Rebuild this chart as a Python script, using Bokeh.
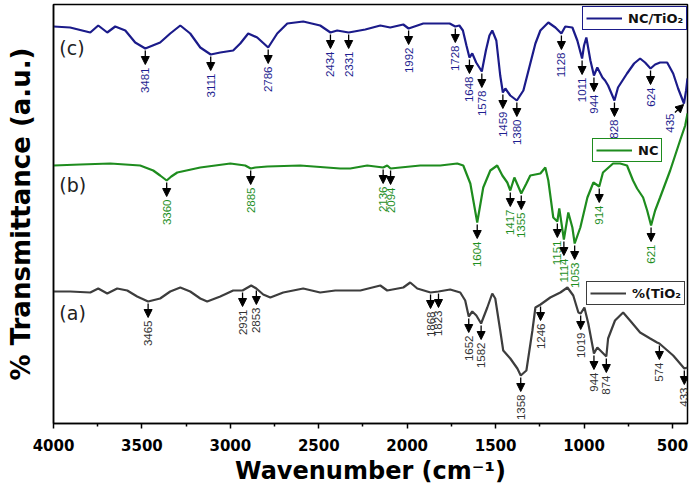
import numpy as np
from bokeh.plotting import figure
from bokeh.models import (Range1d, ColumnDataSource, Arrow, NormalHead, Legend,
                          LegendItem, FixedTicker)
from bokeh.embed import file_html
from bokeh.resources import INLINE
from bokeh.core.properties import value

# ---------------- data (arbitrary transmittance units, offset spectra) ----------------
c_wn = [4000, 3906, 3792, 3747, 3696, 3651, 3594, 3538, 3481, 3397, 3340, 3283, 3227, 3170,
        3111, 3057, 2984, 2944, 2899, 2848, 2786, 2735, 2678, 2588, 2492, 2434, 2396, 2331,
        2237, 2152, 2096, 2022, 1992, 1909, 1773, 1760, 1728, 1705, 1685, 1665, 1648, 1632,
        1610, 1578, 1555, 1535, 1519, 1496, 1474, 1459, 1445, 1417, 1380, 1343, 1304, 1275,
        1247, 1202, 1162, 1128, 1106, 1066, 1038, 1011, 1000, 987, 964, 944, 925, 896, 881,
        864, 828, 808, 757, 717, 683, 655, 624, 598, 570, 530, 496, 468, 435, 423, 415]
c_px = [26, 27, 32, 25, 32, 26, 30, 42, 48, 42, 33, 25, 33, 47,
        54, 52, 50, 43, 33, 37, 47, 33, 23, 21, 25, 32, 30, 32,
        29, 25, 27, 24, 28, 23, 23, 23, 26, 25, 30, 45, 57, 53,
        62, 71, 50, 35, 30, 40, 75, 92, 88, 95, 100, 90, 63, 43,
        30, 22, 27, 33, 26, 27, 40, 58, 45, 37, 60, 75, 67, 77, 80,
        85, 100, 87, 73, 63, 58, 62, 68, 64, 62, 62, 73, 88, 103, 90, 78]
c_val = [423 - v for v in c_px]

b_wn = [4000, 3849, 3679, 3510, 3436, 3397, 3360, 3334, 3300, 3170, 3000, 2916, 2885, 2859,
        2791, 2605, 2379, 2322, 2226, 2136, 2113, 2094, 2039, 1926, 1813, 1717, 1683, 1643,
        1604, 1570, 1530, 1491, 1462, 1434, 1417, 1394, 1355, 1326, 1304, 1247, 1219, 1202,
        1174, 1151, 1140, 1114, 1089, 1066, 1053, 1021, 981, 947, 914, 893, 836, 796, 757,
        723, 700, 666, 643, 621, 598, 570, 513, 457, 428, 415]
b_px = [165, 164, 163, 165, 170, 175, 180, 176, 172, 167, 163, 165, 168, 167,
        166, 165, 168, 168, 165, 167, 165, 168, 167, 165, 165, 163, 165, 183,
        222, 187, 170, 165, 175, 182, 190, 177, 193, 183, 175, 173, 167, 180,
        217, 221, 208, 239, 212, 227, 243, 227, 197, 182, 186, 172, 163, 163, 165,
        180, 188, 197, 210, 225, 210, 197, 170, 140, 125, 113]
b_val = [423 - v for v in b_px]

a_wn = [4000, 3906, 3792, 3747, 3696, 3640, 3583, 3527, 3465, 3397, 3340, 3283, 3227, 3170,
        3131, 3057, 2984, 2931, 2882, 2853, 2814, 2774, 2701, 2588, 2492, 2407, 2322, 2265,
        2152, 2113, 2022, 1983, 1943, 1868, 1823, 1757, 1700, 1672, 1652, 1632, 1609, 1582,
        1547, 1519, 1502, 1474, 1457, 1417, 1377, 1358, 1326, 1292, 1275, 1246, 1191, 1134,
        1094, 1061, 1032, 1019, 998, 976, 944, 925, 874, 864, 825, 779, 740, 683, 626, 587,
        574, 496, 433, 415]
a_px = [291, 291, 292, 288, 293, 288, 290, 296, 301, 298, 291, 287, 291, 298,
        301, 296, 290, 290, 285, 288, 294, 297, 292, 288, 292, 290, 290, 290,
        285, 290, 287, 282, 288, 292, 291, 289, 292, 300, 316, 311, 315, 323,
        307, 293, 298, 330, 350, 358, 368, 375, 370, 330, 307, 304, 297, 292,
        287, 295, 312, 313, 307, 323, 353, 347, 356, 338, 320, 312, 320, 332, 338, 342,
        343, 355, 368, 367]
a_val = [423 - v for v in a_px]

c_peaks = [3481, 3111, 2786, 2434, 2331, 1992, 1728, 1648, 1578, 1459, 1380, 1128, 1011,
           944, 828, 624, 435]
b_peaks = [3360, 2885, 2136, 2094, 1604, 1417, 1355, 1151, 1114, 1053, 914, 621]
a_peaks = [3465, 2931, 2853, 1868, 1823, 1652, 1582, 1358, 1246, 1019, 944, 874, 574, 433]

x_ticks = [4000, 3500, 3000, 2500, 2000, 1500, 1000, 500]
x_minor = [3750, 3250, 2750, 2250, 1750, 1250, 750]

# ---------------- figure ----------------
p = figure(width=690, height=490, output_backend="svg", toolbar_location=None,
           x_range=Range1d(4000, 415), y_range=Range1d(0, 419),
           min_border_left=53, min_border_right=3, min_border_top=4, min_border_bottom=67)
p.xgrid.visible = False
p.ygrid.visible = False
p.outline_line_color = "black"
p.outline_line_width = 1.5
p.background_fill_color = "white"

NAVY, GREEN, GREY = "#1b1b8a", "#1e8c1e", "#3d3d3d"
NAVY_T, GREEN_T, GREY_T = "#1f1f90", "#1f8f1f", "#333333"

rc = p.line(c_wn, c_val, line_color=NAVY, line_width=2.2)
rb = p.line(b_wn, b_val, line_color=GREEN, line_width=2.2)
ra = p.line(a_wn, a_val, line_color=GREY, line_width=2.2)


def annotate(peaks, wn, vals, color):
    x0, y0, x1, y1, tx, ty, tt = [], [], [], [], [], [], []
    for pk in peaks:
        v = float(np.interp(pk, wn[::-1], vals[::-1]))
        if pk == 435:
            x0.append(pk + 51); y0.append(v - 9)
            x1.append(pk + 2); y1.append(v - 1)
            tx.append(pk + 77); ty.append(v - 10)
        else:
            x0.append(pk); y0.append(v - 2)
            x1.append(pk); y1.append(v - 16)
            tx.append(pk); ty.append(v - 19)
        tt.append(str(pk))
    src = ColumnDataSource(dict(x0=x0, y0=y0, x1=x1, y1=y1))
    p.add_layout(Arrow(x_start="x0", y_start="y0", x_end="x1", y_end="y1", source=src,
                       line_color="black", line_width=1.3,
                       end=NormalHead(size=8, fill_color="black", line_color="black",
                                      line_width=1)))
    p.text(x=tx, y=ty, text=tt, angle=np.pi / 2, text_align="right",
           text_baseline="middle", text_font=value("Liberation Sans"),
           text_font_size="11.5px", text_color=color)


annotate(c_peaks, c_wn, c_val, NAVY_T)
annotate(b_peaks, b_wn, b_val, GREEN_T)
annotate(a_peaks, a_wn, a_val, GREY_T)

# panel letters
p.text(x=[3967] * 3, y=[c_val[0] - 21, b_val[0] - 19, a_val[0] - 21],
       text=["(c)", "(b)", "(a)"], text_align="left", text_baseline="middle",
       text_font=value("DejaVu Sans"), text_font_size="19px", text_color="#222222")

# legends
def make_legend(r, label, color, loc):
    leg = Legend(items=[LegendItem(label=label, renderers=[r])], location=loc,
                 border_line_color=color, border_line_width=1.5, border_line_alpha=1,
                 padding=3, margin=0, spacing=0, glyph_width=36, glyph_height=16,
                 label_height=16, label_standoff=6, label_text_font="DejaVu Sans",
                 label_text_font_style="bold", label_text_font_size="13px",
                 label_text_color="#111111", background_fill_color="white",
                 background_fill_alpha=1)
    p.add_layout(leg)

make_legend(rc, "NC/TiO\u2082", NAVY, (529, 393))
make_legend(rb, "NC", GREEN, (539, 261))
make_legend(ra, "%(TiO\u2082", GREY, (533, 118))

# axes
xa = p.xaxis[0]
xa.ticker = FixedTicker(ticks=x_ticks, minor_ticks=x_minor)
xa.axis_line_width = 1.5
xa.major_tick_line_width = 1.5
xa.minor_tick_line_width = 1.5
xa.major_tick_in = 0
xa.major_tick_out = 5
xa.minor_tick_in = 0
xa.minor_tick_out = 3
xa.major_label_standoff = 10
xa.major_label_text_font = "DejaVu Sans"
xa.major_label_text_font_style = "bold"
xa.major_label_text_font_size = "15px"
xa.major_label_text_color = "black"
xa.axis_label = "Wavenumber (cm\u207b\u00b9)"
xa.axis_label_text_font = "DejaVu Sans"
xa.axis_label_text_font_style = "bold"
xa.axis_label_text_font_size = "24px"
xa.axis_label_text_color = "black"
xa.axis_label_standoff = 3

ya = p.yaxis[0]
ya.ticker = FixedTicker(ticks=[])
ya.axis_line_width = 1.5
ya.major_tick_line_color = None
ya.minor_tick_line_color = None
ya.major_label_text_font_size = "0px"
ya.axis_label = "% Transmittance (a.u.)"
ya.axis_label_text_font = "DejaVu Sans"
ya.axis_label_text_font_style = "bold"
ya.axis_label_text_font_size = "26px"
ya.axis_label_text_color = "black"
ya.axis_label_standoff = 18

open("out.html", "w").write(file_html(p, INLINE))
